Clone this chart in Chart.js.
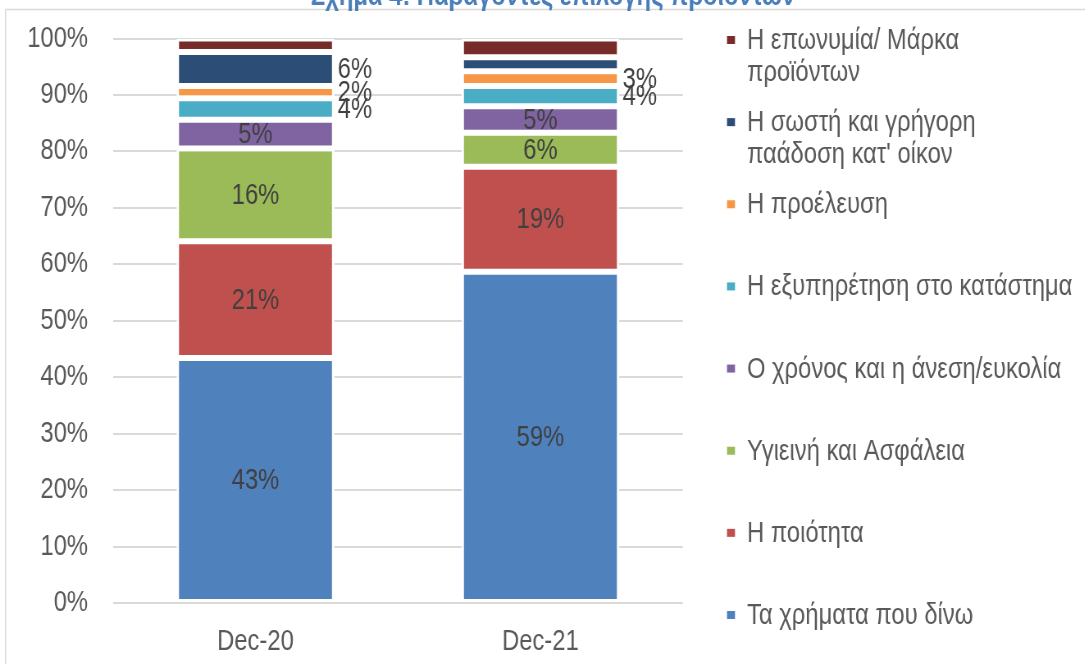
<!DOCTYPE html>
<html>
<head>
<meta charset="utf-8">
<script src="https://cdn.jsdelivr.net/npm/chart.js@4.4.0/dist/chart.umd.min.js"></script>
<style>
  body { margin: 0; background: #fff; overflow: hidden; }
  #janela { position: relative; width: 1085px; height: 664px; overflow: hidden; }
  /* texto estreito: desenha mais largo e comprime na horizontal */
  #wrap { position: absolute; left: 0; top: 0; width: 1323px; height: 664px; transform: scaleX(0.82); transform-origin: 0 0; }
</style>
</head>
<body>
<div id="janela"><div id="wrap"><canvas id="grafico" width="1323" height="664"></canvas></div></div>
<script>
var ESC = 0.82;

var categorias = ['Dec-20', 'Dec-21'];

// bottom to top of the stack
var nomesSeries = [
    'Τα χρήματα που δίνω',
    'Η ποιότητα',
    'Υγιεινή και Ασφάλεια',
    'Ο χρόνος και η άνεση/ευκολία',
    'Η εξυπηρέτηση στο κατάστημα',
    'Η προέλευση',
    'Η σωστή και γρήγορη\nπαάδοση κατ\' οίκον',
    'Η επωνυμία/ Μάρκα\nπροϊόντων'
];
var coresSeries = ['#4F81BD', '#C0504D', '#9BBB59', '#8064A2', '#4BACC6', '#F79646', '#2C4D75', '#772C2A'];

var dinheiro  = [43.4, 58.7];
var qualidade = [20.7, 18.6];
var higiene   = [16.4, 6.0];
var tempo     = [5.1, 4.7];
var servico   = [3.8, 3.6];
var origem    = [2.2, 2.6];
var entrega   = [6.0, 2.5];
var marca     = [2.4, 3.3];

var valores = [dinheiro, qualidade, higiene, tempo, servico, origem, entrega, marca];

var tituloTexto = 'Σχήμα 4: Παράγοντες επιλογής προϊόντων';

// [dataset, category]
var rotulosFora = [[4, 0], [5, 0], [6, 0], [4, 1], [5, 1]];
var rotulosEscondidos = [[7, 0], [6, 1], [7, 1]];

var fonte = "'Liberation Sans', Arial, sans-serif";

function temPar(lista, d, i) {
    return lista.some(function(p) { return p[0] === d && p[1] === i; });
}

var datasets = valores.map(function(v, k) {
    return {
        label: nomesSeries[k],
        data: v,
        backgroundColor: coresSeries[k],
        borderColor: '#ffffff',
        borderWidth: 3,
        borderSkipped: false,
        barPercentage: 0.554,
        categoryPercentage: 1
    };
});

var pluginExtra = {
    id: 'extra',
    beforeDraw: function(chart) {
        var ctx = chart.ctx;
        ctx.save();
        ctx.strokeStyle = '#d9d9d9';
        ctx.lineWidth = 1.5;
        ctx.strokeRect(5.5 / ESC, 9.5, 1600, 800);
        ctx.restore();
    },
    afterDraw: function(chart) {
        var ctx = chart.ctx;
        ctx.save();

        // titulo (cortado em cima)
        ctx.fillStyle = '#4A7EBB';
        ctx.font = 'bold 29px ' + fonte;
        ctx.textAlign = 'center';
        ctx.textBaseline = 'alphabetic';
        ctx.fillText(tituloTexto, 553 / ESC, 5);

        // rotulos de dados
        ctx.font = '29px ' + fonte;
        ctx.fillStyle = '#404040';
        ctx.textBaseline = 'middle';
        chart.data.datasets.forEach(function(ds, d) {
            var meta = chart.getDatasetMeta(d);
            meta.data.forEach(function(bar, i) {
                if (temPar(rotulosEscondidos, d, i)) return;
                var txt = Math.round(ds.data[i]) + '%';
                var y = (bar.y + bar.base) / 2 + 1;
                if (temPar(rotulosFora, d, i)) {
                    ctx.textAlign = 'left';
                    ctx.fillText(txt, bar.x + bar.width / 2 + 4, y);
                } else {
                    ctx.textAlign = 'center';
                    ctx.fillText(txt, bar.x, y);
                }
            });
        });

        // legenda (ordem inversa)
        var n = chart.data.datasets.length;
        var passo = (615 - 40) / (n - 1);
        ctx.textAlign = 'left';
        for (var j = 0; j < n; j++) {
            var ds = chart.data.datasets[n - 1 - j];
            var yc = 40 + j * passo;
            ctx.fillStyle = ds.backgroundColor;
            ctx.fillRect(727 / ESC, yc - 4, 8 / ESC, 8);
            ctx.fillStyle = '#595959';
            ds.label.split('\n').forEach(function(linha, l) {
                ctx.fillText(linha, 747 / ESC, yc + 1 + l * 32);
            });
        }
        ctx.restore();
    }
};

new Chart(document.getElementById('grafico'), {
    type: 'bar',
    data: { labels: categorias, datasets: datasets },
    options: {
        responsive: false,
        animation: false,
        events: [],
        layout: { padding: { top: 38.5, right: 402 / ESC, left: 0, bottom: 0 } },
        plugins: { legend: { display: false }, tooltip: { enabled: false } },
        scales: {
            x: {
                stacked: true,
                grid: { display: false },
                border: { display: false },
                ticks: { color: '#595959', font: { family: fonte, size: 29 }, padding: 14 },
                afterFit: function(s) { s.height = 61; }
            },
            y: {
                stacked: true,
                min: 0,
                max: 100,
                grid: { color: '#d9d9d9', lineWidth: 2, drawTicks: true, tickLength: 25 / ESC, tickColor: 'rgba(0,0,0,0)' },
                border: { display: false },
                ticks: {
                    stepSize: 10,
                    color: '#595959',
                    font: { family: fonte, size: 29 },
                    padding: 0,
                    callback: function(v) { return v + '%'; }
                },
                afterFit: function(s) { s.width = 113 / ESC; }
            }
        }
    },
    plugins: [pluginExtra]
});
</script>
</body>
</html>
